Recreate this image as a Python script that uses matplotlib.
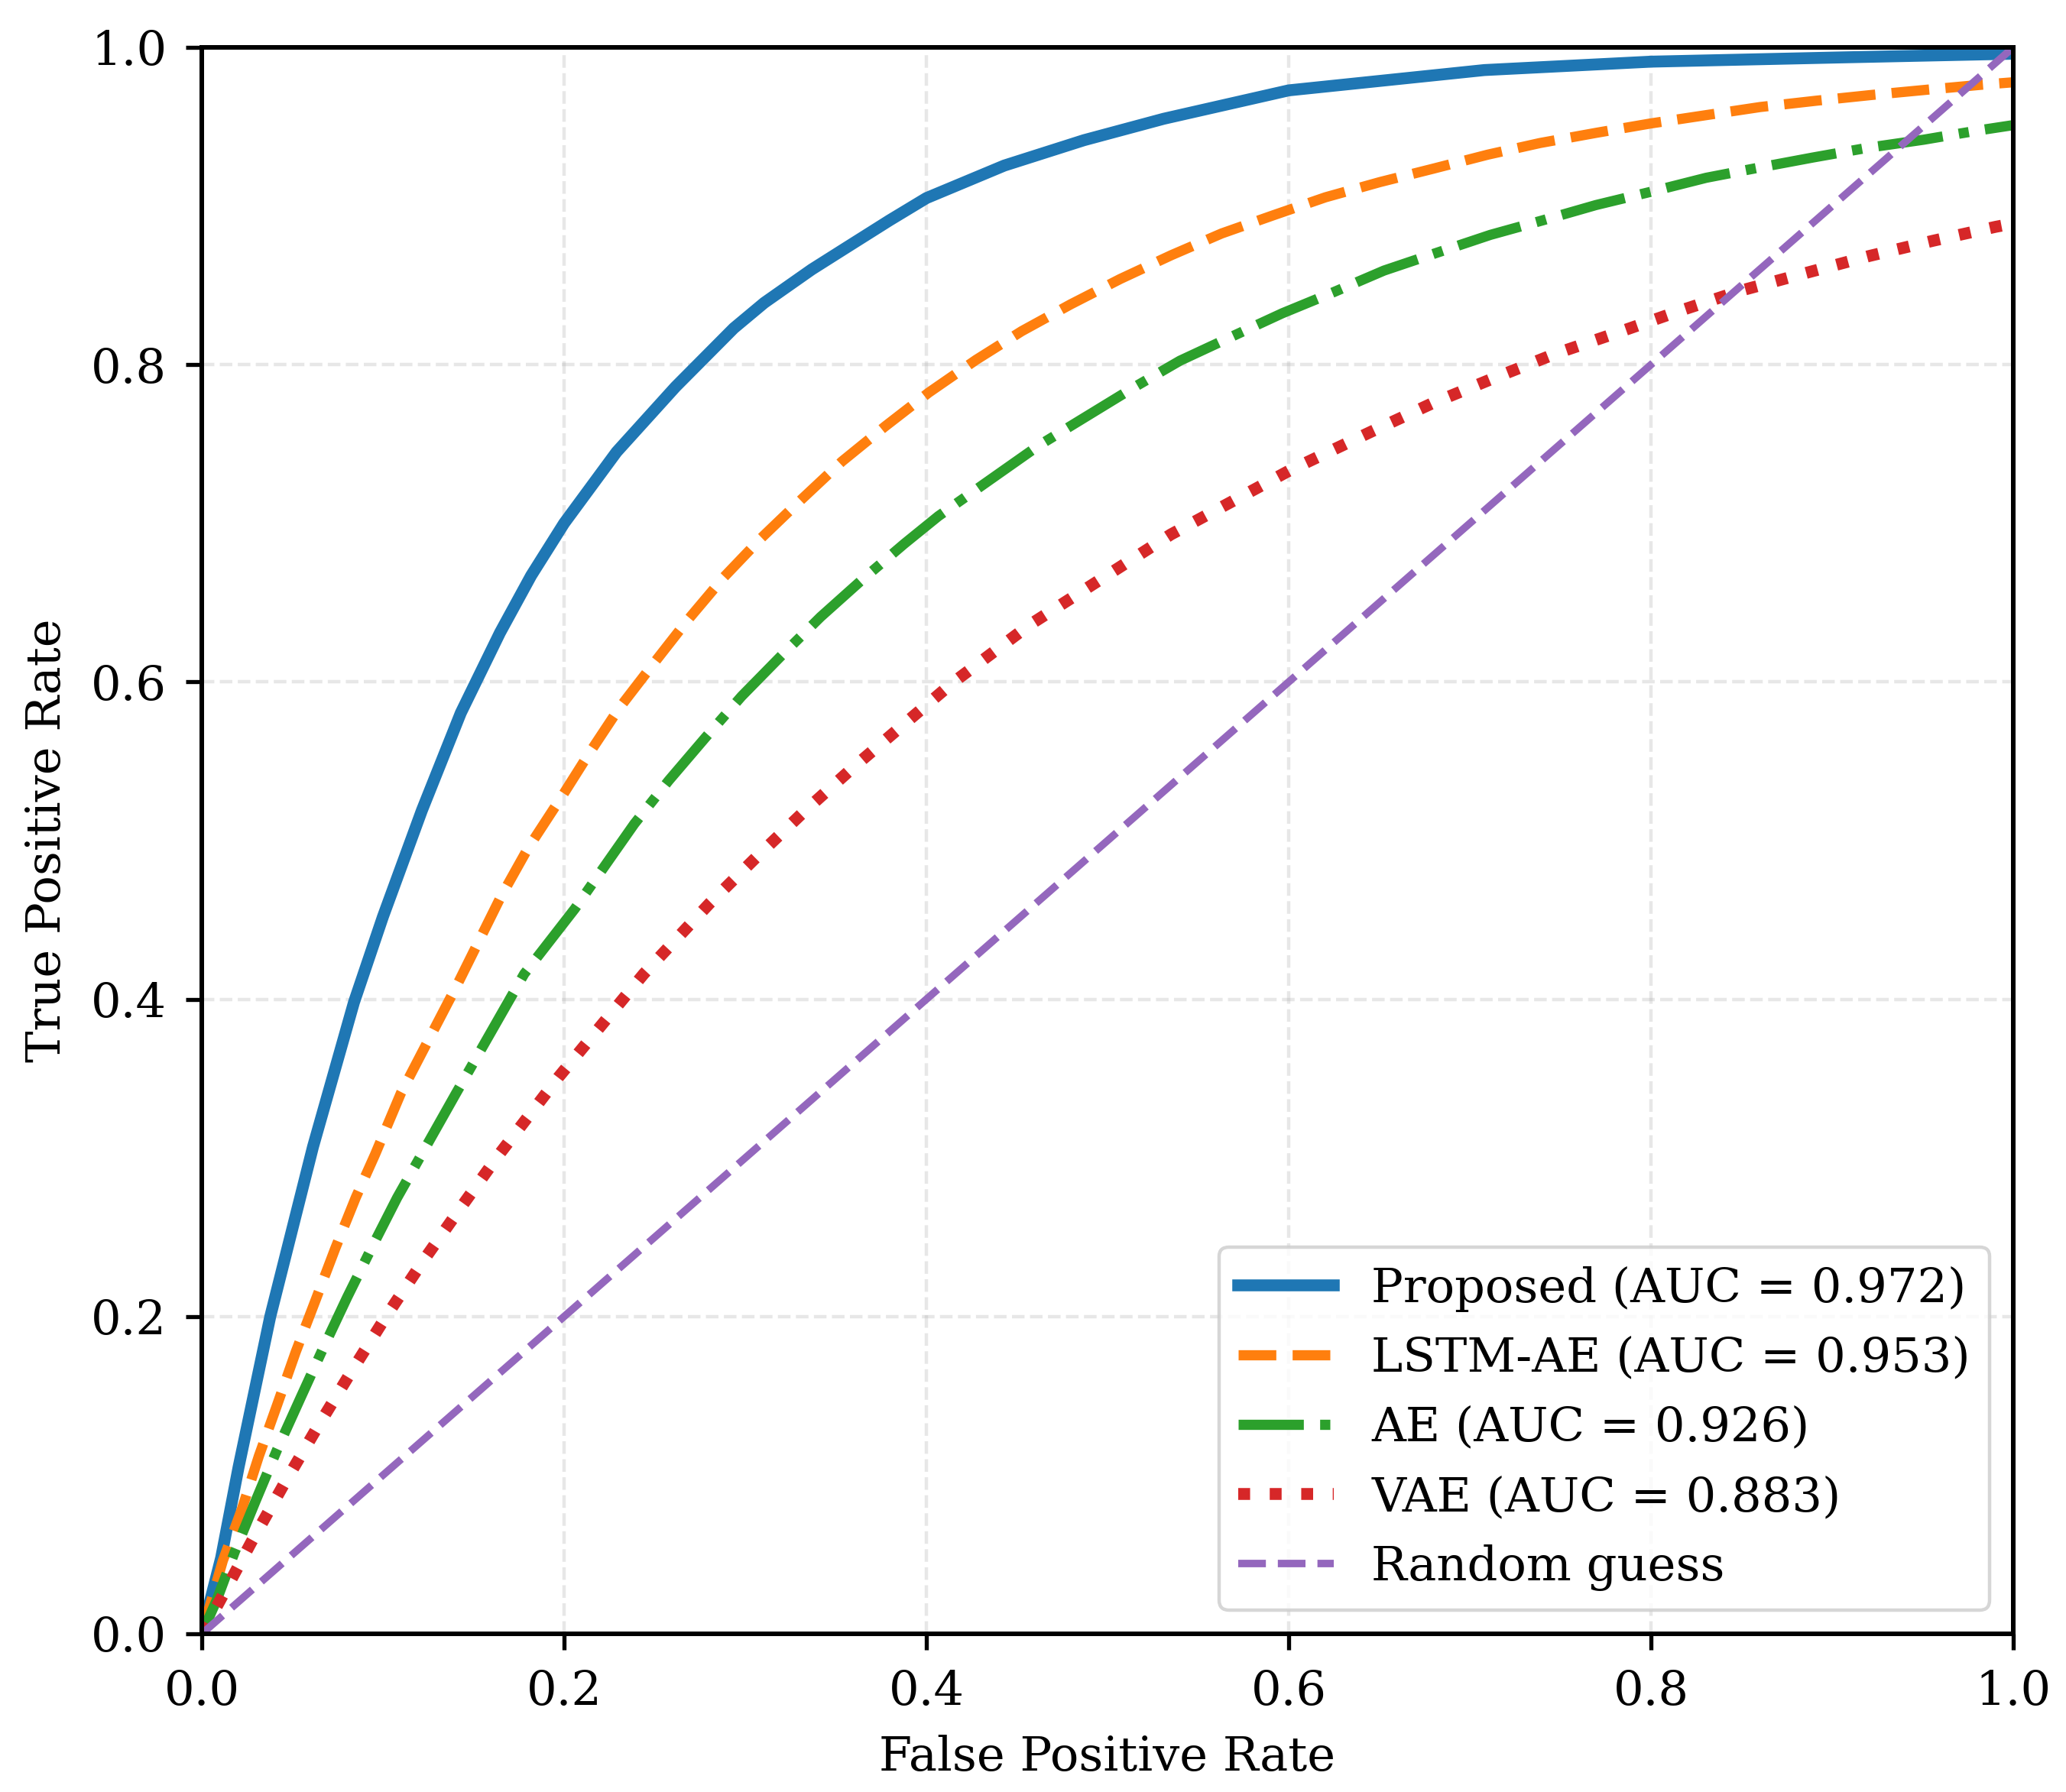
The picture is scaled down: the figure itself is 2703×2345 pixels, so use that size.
import matplotlib
matplotlib.use("Agg")
import matplotlib.pyplot as plt

# ROC curves
fpr_proposed = [0.0, 0.0107, 0.0203, 0.0378, 0.0614, 0.084, 0.100, 0.1215, 0.143, 0.1646,
                0.1818, 0.200, 0.229, 0.2615, 0.2937, 0.3105, 0.3367, 0.3547, 0.3797, 0.400,
                0.443, 0.487, 0.531, 0.600, 0.708, 0.800, 0.906, 1.0]
tpr_proposed = [0.0, 0.048, 0.105, 0.200, 0.307, 0.398, 0.452, 0.519, 0.5805, 0.631,
                0.667, 0.700, 0.745, 0.786, 0.823, 0.839, 0.860, 0.873, 0.891, 0.905,
                0.9255, 0.9415, 0.955, 0.9729, 0.9857, 0.991, 0.9937, 0.996]

fpr_lstm = [0.0, 0.0116, 0.0221, 0.0315, 0.0415, 0.0518, 0.0627, 0.0737, 0.085, 0.0956,
            0.110, 0.1405, 0.165, 0.180, 0.200, 0.213, 0.2303, 0.249, 0.268, 0.2884,
            0.3089, 0.3308, 0.3534, 0.3771, 0.4013, 0.4274, 0.4526, 0.4796, 0.507, 0.5352,
            0.563, 0.5916, 0.6203, 0.6504, 0.680, 0.710, 0.7387, 0.7696, 0.7996, 0.8305,
            0.8603, 0.8914, 0.9218, 0.9523, 0.983, 1.0]
tpr_lstm = [0.0, 0.046, 0.0785, 0.112, 0.144, 0.1775, 0.210, 0.243, 0.275, 0.302,
            0.341, 0.408, 0.4644, 0.495, 0.530, 0.5535, 0.5833, 0.611, 0.6387, 0.6663,
            0.6908, 0.7148, 0.739, 0.761, 0.7824, 0.803, 0.8211, 0.838, 0.854, 0.869,
            0.8827, 0.8942, 0.9055, 0.9151, 0.9236, 0.9324, 0.9397, 0.9461, 0.952, 0.9573,
            0.9624, 0.9664, 0.970, 0.9733, 0.9765, 0.978]

fpr_ae = [0.0, 0.0084, 0.0182, 0.0298, 0.0417, 0.0545, 0.0672, 0.0802, 0.0938, 0.1078,
          0.1405, 0.178, 0.2059, 0.220, 0.2388, 0.2578, 0.278, 0.298, 0.320, 0.3416,
          0.3648, 0.3878, 0.4066, 0.462, 0.5143, 0.540, 0.5684, 0.5965, 0.6248, 0.6526,
          0.6817, 0.7113, 0.740, 0.7696, 0.800, 0.8305, 0.860, 0.8895, 0.9196, 0.9505,
          0.981, 1.0]
tpr_ae = [0.0, 0.0217, 0.0517, 0.084, 0.1164, 0.1487, 0.1805, 0.212, 0.2434, 0.2748,
          0.341, 0.416, 0.457, 0.480, 0.5106, 0.5379, 0.5649, 0.591, 0.6166, 0.641,
          0.6647, 0.6871, 0.7045, 0.749, 0.7855, 0.8025, 0.8176, 0.8324, 0.8457, 0.8593,
          0.8705, 0.8818, 0.8909, 0.9006, 0.909, 0.9178, 0.9243, 0.9306, 0.9367, 0.9418,
          0.9477, 0.951]

fpr_vae = [0.0, 0.0102, 0.0273, 0.0452, 0.0637, 0.0824, 0.1017, 0.1218, 0.1428, 0.1638,
           0.197, 0.244, 0.2804, 0.3062, 0.3325, 0.3594, 0.3867, 0.4143, 0.457, 0.535,
           0.600, 0.646, 0.679, 0.713, 0.7475, 0.782, 0.816, 0.850, 0.8852, 0.9205,
           0.9557, 0.9903, 1.0]
tpr_vae = [0.0, 0.0213, 0.0577, 0.094, 0.130, 0.165, 0.200, 0.2344, 0.2684, 0.3017,
           0.351, 0.416, 0.4605, 0.4896, 0.5183, 0.5459, 0.5725, 0.5993, 0.636, 0.693,
           0.733, 0.758, 0.7755, 0.7914, 0.807, 0.8204, 0.834, 0.8468, 0.8577, 0.8685,
           0.8781, 0.8869, 0.889]

fpr_random = [0.0, 1.0]
tpr_random = [0.0, 1.0]

labels = ['Proposed (AUC = 0.972)', 'LSTM-AE (AUC = 0.953)', 'AE (AUC = 0.926)',
          'VAE (AUC = 0.883)', 'Random guess']

plt.rcParams['font.family'] = 'serif'
plt.rcParams['font.serif'] = ['DejaVu Serif']

fig = plt.figure(figsize=(2703 / 320, 2345 / 320), dpi=320)
ax = fig.add_axes([264 / 2703, 207 / 2345, 2370 / 2703, 2076 / 2345])

ax.plot(fpr_proposed, tpr_proposed, color='#1f77b4', linestyle='-', linewidth=3.5, label=labels[0])
ax.plot(fpr_lstm, tpr_lstm, color='#ff7f0e', linestyle='--', linewidth=3, label=labels[1])
ax.plot(fpr_ae, tpr_ae, color='#2ca02c', linestyle='-.', linewidth=3, label=labels[2])
ax.plot(fpr_vae, tpr_vae, color='#d62728', linestyle=':', linewidth=3.5, label=labels[3])
ax.plot(fpr_random, tpr_random, color='#9467bd', linestyle='--', linewidth=2.2, label=labels[4])

ax.set_xlim(0, 1)
ax.set_ylim(0, 1)
ax.set_xticks([0.0, 0.2, 0.4, 0.6, 0.8, 1.0])
ax.set_yticks([0.0, 0.2, 0.4, 0.6, 0.8, 1.0])
ax.tick_params(labelsize=14, length=4.7, width=1.2, pad=5.6)
for s in ax.spines.values():
    s.set_linewidth(1.35)
ax.grid(True, linestyle='--', linewidth=1.0, alpha=0.3)

ax.set_xlabel('False Positive Rate', fontsize=14, labelpad=6)
ax.set_ylabel('True Positive Rate', fontsize=14, labelpad=6)
ax.legend(loc='lower right', fontsize=14)

fig.savefig('out.png', dpi=320)
